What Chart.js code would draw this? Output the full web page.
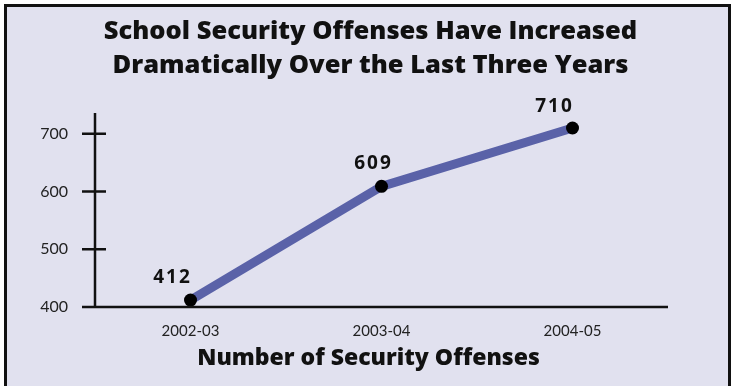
<!DOCTYPE html>
<html lang="en">
    <head>
        <meta charset="UTF-8" />
        <title>School Security Offenses</title>
        <script src="https://cdn.jsdelivr.net/npm/chart.js"></script>
        <style>
            html, body { margin: 0; padding: 0; background: #fff; overflow: hidden; }
            #frame {
                position: absolute; left: 4px; top: 4px;
                width: 721px; height: 400px;
                border: 3px solid #111; background: #e1e1ef;
            }
            #wrap { position: absolute; left: 0; top: 0; width: 733px; height: 386px; }
        </style>
    </head>
    <body>
        <div id="frame"></div>
        <div id="wrap"><canvas id="myChart" width="733" height="386"></canvas></div>

        <script>
            const years = ["2002-03", "2003-04", "2004-05"];
            const offenses = [412, 609, 710];
            const yTicks = [400, 500, 600, 700];
            const titleLines = [
                "School Security Offenses Have Increased",
                "Dramatically Over the Last Three Years",
            ];
            const xTitle = "Number of Security Offenses";

            const FONT = "Lato, 'Open Sans', sans-serif";
            const BOLD = "'Open Sans', sans-serif";

            // axis lines with ticks crossing the y axis, value labels and titles
            const axisAndLabels = {
                id: "axisAndLabels",
                afterDatasetsDraw(chart) {
                    const { ctx, chartArea, scales } = chart;
                    const y = scales.y;
                    const x0 = chartArea.left;
                    const cx = chart.width / 2 + 4;
                    ctx.save();
                    ctx.strokeStyle = "#111";
                    ctx.lineWidth = 2.5;
                    ctx.beginPath();
                    ctx.moveTo(x0, chartArea.top);
                    ctx.lineTo(x0, chartArea.bottom);
                    ctx.moveTo(x0 - 13, chartArea.bottom);
                    ctx.lineTo(chartArea.right, chartArea.bottom);
                    yTicks.forEach((v) => {
                        const py = y.getPixelForValue(v);
                        ctx.moveTo(x0 - 13, py);
                        ctx.lineTo(x0 + 11, py);
                    });
                    ctx.stroke();

                    ctx.fillStyle = "#111";
                    ctx.textAlign = "center";
                    ctx.textBaseline = "middle";

                    ctx.font = "800 25.5px " + BOLD;
                    titleLines.forEach((line, i) => ctx.fillText(line, cx, 32 + i * 34));

                    ctx.font = "800 23px " + BOLD;
                    ctx.fillText(xTitle, cx - 2, 358);

                    const meta = chart.getDatasetMeta(0);
                    const offsets = [[-18, -22], [-8, -23], [-18, -21]];
                    ctx.font = "700 19px " + BOLD;
                    ctx.letterSpacing = "2px";
                    meta.data.forEach((pt, i) => {
                        ctx.fillText(String(offenses[i]), pt.x + offsets[i][0], pt.y + offsets[i][1]);
                    });
                    ctx.restore();
                },
            };

            const config = {
                type: "line",
                data: {
                    labels: years,
                    datasets: [
                        {
                            data: offenses,
                            borderColor: "#5a62a8",
                            borderWidth: 9,
                            pointBackgroundColor: "#000",
                            pointBorderColor: "#000",
                            pointRadius: 6.5,
                            pointBorderWidth: 0,
                            tension: 0,
                        },
                    ],
                },
                options: {
                    responsive: false,
                    animation: false,
                    layout: { padding: { left: 0, right: 65, top: 113, bottom: 4 } },
                    plugins: {
                        legend: { display: false },
                        tooltip: { enabled: false },
                        title: { display: false },
                    },
                    scales: {
                        x: {
                            offset: true,
                            grid: { display: false },
                            border: { display: false },
                            ticks: {
                                color: "#222",
                                font: { family: FONT, size: 15 },
                                padding: 7,
                            },
                            afterFit(scale) {
                                scale.height = 75;
                            },
                        },
                        y: {
                            min: 400,
                            max: 736,
                            grid: { display: false },
                            border: { display: false },
                            ticks: {
                                stepSize: 100,
                                color: "#222",
                                font: { family: FONT, size: 16 },
                                padding: 19,
                            },
                            afterBuildTicks(scale) {
                                scale.ticks = yTicks.map((v) => ({ value: v }));
                            },
                            afterFit(scale) {
                                scale.width = 95;
                            },
                        },
                    },
                },
                plugins: [axisAndLabels],
            };

            document.addEventListener("DOMContentLoaded", function () {
                const ctx = document.getElementById("myChart").getContext("2d");
                new Chart(ctx, config);
            });
        </script>
    </body>
</html>
